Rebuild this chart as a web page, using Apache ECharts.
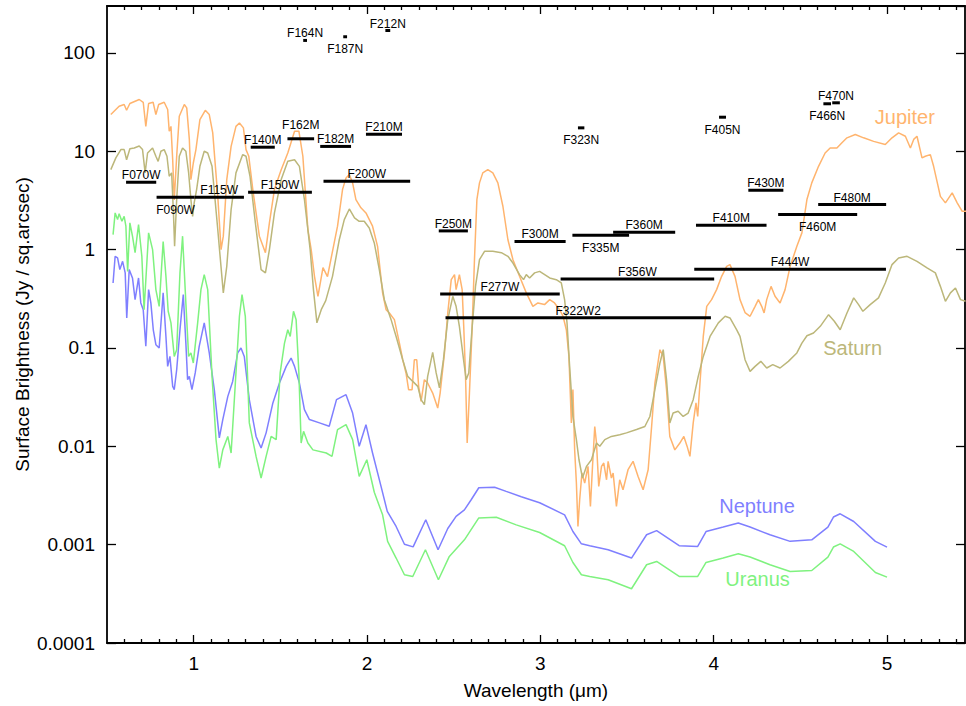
<!DOCTYPE html>
<html>
<head>
<meta charset="utf-8">
<title>Giant planet spectra and NIRCam filters</title>
<script src="https://cdn.jsdelivr.net/npm/echarts@6/dist/echarts.min.js"></script>
<style>
  html, body { margin: 0; padding: 0; background: #fff; }
  #chart { width: 966px; height: 706px; }
</style>
</head>
<body>
<div id="chart"></div>
<script>
// spectra: [wavelength um, surface brightness Jy/sq.arcsec]
const jupiter = [[0.522,23.6],[0.570,28.7],[0.599,29.9],[0.613,26.1],[0.632,30.6],[0.686,33.6],[0.709,31.5],[0.724,17.9],[0.740,30.6],[0.766,31.5],[0.782,23.6],[0.798,29.9],[0.830,31.5],[0.850,26.6],[0.859,16.0],[0.869,17.9],[0.879,8.2],[0.888,3.2],[0.902,8.9],[0.917,22.7],[0.946,29.9],[0.960,27.6],[0.975,13.2],[0.984,5.15],[0.998,7.6],[1.013,10.4],[1.036,21.0],[1.067,26.1],[1.090,23.6],[1.110,15.4],[1.139,3.5],[1.158,1.0],[1.171,1.37],[1.191,5.15],[1.216,11.2],[1.244,17.9],[1.264,19.4],[1.287,17.3],[1.302,10.4],[1.318,8.9],[1.341,4.1],[1.379,1.37],[1.414,0.93],[1.437,1.87],[1.466,4.1],[1.505,6.5],[1.543,9.6],[1.582,16.0],[1.607,16.0],[1.630,8.9],[1.659,1.6],[1.678,1.0],[1.697,0.535],[1.717,0.335],[1.746,0.656],[1.772,0.531],[1.811,1.18],[1.830,1.73],[1.859,4.1],[1.879,5.36],[1.898,5.8],[1.917,4.77],[1.936,3.23],[1.965,2.66],[1.994,2.36],[2.032,1.73],[2.061,1.08],[2.090,0.363],[2.110,0.245],[2.129,0.227],[2.158,0.194],[2.187,0.112],[2.206,0.076],[2.225,0.0557],[2.240,0.0377],[2.260,0.0377],[2.273,0.076],[2.287,0.076],[2.298,0.0407],[2.312,0.0286],[2.331,0.0476],[2.350,0.044],[2.379,0.0348],[2.408,0.0245],[2.422,0.0348],[2.447,0.089],[2.466,0.227],[2.486,0.495],[2.505,0.557],[2.514,0.392],[2.533,0.557],[2.549,0.392],[2.558,0.166],[2.568,0.0557],[2.578,0.0108],[2.591,0.0348],[2.607,0.166],[2.620,0.79],[2.634,3.23],[2.649,4.77],[2.668,6.03],[2.697,6.5],[2.726,6.03],[2.755,4.77],[2.784,2.76],[2.813,1.26],[2.842,0.79],[2.880,0.535],[2.919,0.363],[2.957,0.265],[2.986,0.287],[3.024,0.276],[3.054,0.31],[3.082,0.287],[3.111,0.245],[3.131,0.21],[3.150,0.153],[3.165,0.082],[3.179,0.0173],[3.188,0.0377],[3.198,0.0092],[3.208,0.00423],[3.217,0.00153],[3.227,0.00286],[3.240,0.00535],[3.256,0.00423],[3.275,0.00625],[3.289,0.00245],[3.301,0.00625],[3.314,0.0159],[3.324,0.0108],[3.337,0.00391],[3.353,0.00625],[3.366,0.00676],[3.382,0.00457],[3.391,0.00703],[3.410,0.00476],[3.420,0.00535],[3.439,0.00245],[3.458,0.00457],[3.477,0.00362],[3.506,0.00578],[3.535,0.00703],[3.564,0.00494],[3.593,0.00362],[3.622,0.00578],[3.642,0.0159],[3.661,0.044],[3.690,0.096],[3.709,0.082],[3.728,0.0377],[3.747,0.0126],[3.776,0.0092],[3.805,0.0108],[3.828,0.0126],[3.847,0.00998],[3.863,0.0079],[3.882,0.0173],[3.898,0.0276],[3.908,0.0201],[3.921,0.044],[3.940,0.131],[3.960,0.265],[3.988,0.31],[4.017,0.392],[4.046,0.535],[4.075,0.676],[4.094,0.703],[4.123,0.535],[4.152,0.31],[4.181,0.229],[4.210,0.21],[4.239,0.265],[4.258,0.31],[4.277,0.265],[4.291,0.227],[4.306,0.31],[4.331,0.423],[4.354,0.335],[4.383,0.287],[4.412,0.392],[4.441,0.676],[4.480,1.08],[4.509,1.48],[4.538,3.23],[4.566,4.77],[4.605,7.03],[4.643,9.6],[4.672,10.8],[4.711,10.8],[4.740,12.2],[4.769,13.7],[4.817,14.8],[4.865,13.7],[4.923,12.6],[4.990,11.7],[5.029,13.7],[5.067,15.4],[5.106,14.2],[5.135,10.8],[5.154,13.2],[5.173,14.2],[5.202,8.57],[5.221,8.9],[5.250,9.25],[5.269,7.03],[5.308,3.48],[5.337,2.99],[5.376,3.77],[5.405,2.99],[5.434,2.45],[5.459,2.45]];

const saturn = [[0.522,6.5],[0.551,8.57],[0.580,10.4],[0.599,10.4],[0.613,8.2],[0.632,10.6],[0.657,10.8],[0.686,11.3],[0.705,10.4],[0.720,6.03],[0.734,9.6],[0.763,10.8],[0.782,8.9],[0.795,7.9],[0.811,10.0],[0.830,10.4],[0.846,8.9],[0.859,5.57],[0.873,6.03],[0.884,2.18],[0.890,1.08],[0.902,3.23],[0.917,8.9],[0.936,10.8],[0.955,10.0],[0.971,6.03],[0.984,3.23],[0.994,2.18],[1.003,2.99],[1.017,4.08],[1.036,7.03],[1.061,10.0],[1.081,9.6],[1.106,7.03],[1.139,1.6],[1.171,0.363],[1.191,0.676],[1.216,2.55],[1.244,6.03],[1.283,9.25],[1.302,8.9],[1.325,5.57],[1.356,1.87],[1.389,0.626],[1.414,0.58],[1.437,1.0],[1.466,2.36],[1.505,5.15],[1.543,7.9],[1.582,8.2],[1.610,7.03],[1.639,3.23],[1.672,1.0],[1.691,0.392],[1.711,0.18],[1.736,0.245],[1.762,0.303],[1.801,0.535],[1.840,1.26],[1.869,2.02],[1.898,2.59],[1.928,2.1],[1.955,1.94],[1.984,1.94],[2.013,1.66],[2.042,1.17],[2.071,0.626],[2.100,0.31],[2.139,0.194],[2.168,0.131],[2.206,0.076],[2.235,0.0514],[2.264,0.0457],[2.293,0.0407],[2.312,0.0298],[2.331,0.0265],[2.350,0.0514],[2.379,0.0902],[2.399,0.0557],[2.418,0.0392],[2.441,0.076],[2.466,0.194],[2.495,0.335],[2.514,0.265],[2.533,0.166],[2.557,0.076],[2.572,0.0476],[2.587,0.0557],[2.607,0.166],[2.626,0.423],[2.649,0.79],[2.678,0.96],[2.726,0.96],[2.775,0.93],[2.813,0.855],[2.842,0.73],[2.880,0.557],[2.903,0.495],[2.919,0.557],[2.938,0.515],[2.967,0.58],[2.996,0.601],[3.025,0.557],[3.054,0.515],[3.092,0.495],[3.121,0.458],[3.140,0.31],[3.154,0.18],[3.169,0.065],[3.188,0.0202],[3.208,0.0117],[3.223,0.0073],[3.243,0.00476],[3.266,0.00625],[3.295,0.0073],[3.324,0.0108],[3.343,0.01],[3.372,0.0117],[3.410,0.0126],[3.458,0.0131],[3.497,0.0137],[3.555,0.0148],[3.603,0.0159],[3.632,0.0201],[3.661,0.0377],[3.690,0.0704],[3.709,0.096],[3.728,0.0476],[3.747,0.0173],[3.766,0.0218],[3.795,0.0227],[3.824,0.0201],[3.853,0.0218],[3.882,0.0298],[3.911,0.0514],[3.940,0.082],[3.979,0.131],[4.027,0.18],[4.066,0.21],[4.094,0.202],[4.133,0.153],[4.152,0.131],[4.181,0.076],[4.210,0.0578],[4.239,0.065],[4.272,0.0731],[4.306,0.0626],[4.341,0.0676],[4.383,0.0626],[4.431,0.0731],[4.480,0.089],[4.509,0.112],[4.538,0.133],[4.576,0.142],[4.615,0.166],[4.663,0.218],[4.696,0.187],[4.730,0.153],[4.769,0.227],[4.808,0.323],[4.836,0.276],[4.861,0.236],[4.903,0.276],[4.951,0.323],[4.990,0.458],[5.029,0.704],[5.067,0.823],[5.116,0.855],[5.173,0.76],[5.231,0.651],[5.279,0.58],[5.308,0.423],[5.337,0.298],[5.366,0.363],[5.395,0.407],[5.424,0.31],[5.453,0.298]];

const neptune = [[0.535,0.458],[0.547,0.855],[0.561,0.823],[0.574,0.626],[0.590,0.76],[0.605,0.58],[0.614,0.202],[0.628,0.626],[0.647,0.515],[0.662,0.31],[0.682,0.515],[0.695,0.287],[0.709,0.245],[0.724,0.104],[0.740,0.392],[0.753,0.287],[0.767,0.153],[0.782,0.108],[0.801,0.1],[0.824,0.363],[0.840,0.131],[0.850,0.065],[0.863,0.082],[0.879,0.0407],[0.888,0.0377],[0.902,0.06],[0.921,0.153],[0.940,0.349],[0.955,0.112],[0.965,0.0476],[0.975,0.0514],[0.990,0.0377],[1.009,0.0557],[1.032,0.104],[1.061,0.18],[1.090,0.089],[1.119,0.0377],[1.148,0.0122],[1.168,0.0187],[1.197,0.0322],[1.225,0.0457],[1.254,0.089],[1.273,0.1],[1.292,0.082],[1.321,0.0298],[1.360,0.0126],[1.389,0.0096],[1.418,0.0137],[1.457,0.0276],[1.495,0.044],[1.534,0.065],[1.562,0.079],[1.582,0.065],[1.610,0.044],[1.639,0.0236],[1.668,0.0187],[1.726,0.0173],[1.782,0.016],[1.824,0.0298],[1.879,0.0335],[1.917,0.0218],[1.955,0.01],[1.994,0.0166],[2.032,0.00855],[2.081,0.00391],[2.117,0.00218],[2.168,0.00153],[2.216,0.00101],[2.266,0.00095],[2.339,0.00179],[2.410,0.000887],[2.466,0.00146],[2.514,0.00194],[2.562,0.00226],[2.601,0.00286],[2.645,0.00379],[2.736,0.00384],[2.803,0.00348],[2.890,0.00307],[2.996,0.00267],[3.140,0.00201],[3.188,0.00136],[3.237,0.00102],[3.285,0.000975],[3.391,0.000887],[3.526,0.000731],[3.613,0.00126],[3.671,0.00139],[3.801,0.000975],[3.908,0.00096],[3.956,0.00136],[4.055,0.00151],[4.142,0.00166],[4.210,0.00151],[4.325,0.00126],[4.441,0.00108],[4.566,0.00112],[4.659,0.00151],[4.691,0.00191],[4.730,0.00206],[4.808,0.00172],[4.933,0.00108],[5.000,0.000944]];

const uranus = [[0.535,1.42],[0.547,2.36],[0.561,2.02],[0.570,2.32],[0.586,1.94],[0.599,2.18],[0.609,1.73],[0.619,0.601],[0.632,1.87],[0.647,1.37],[0.662,0.93],[0.682,1.8],[0.701,0.855],[0.714,0.245],[0.740,1.48],[0.763,1.0],[0.782,0.392],[0.801,0.265],[0.824,1.21],[0.840,0.535],[0.853,0.236],[0.869,0.18],[0.888,0.082],[0.902,0.096],[0.921,0.58],[0.936,1.37],[0.955,0.287],[0.971,0.082],[0.984,0.089],[0.998,0.0704],[1.023,0.18],[1.042,0.392],[1.061,0.557],[1.081,0.392],[1.106,0.0514],[1.129,0.0117],[1.148,0.00601],[1.168,0.0092],[1.197,0.0126],[1.216,0.00855],[1.244,0.0557],[1.264,0.21],[1.279,0.349],[1.298,0.21],[1.321,0.0173],[1.360,0.0079],[1.389,0.00476],[1.418,0.0079],[1.447,0.0126],[1.476,0.0117],[1.499,0.0557],[1.524,0.112],[1.543,0.153],[1.557,0.131],[1.576,0.236],[1.591,0.194],[1.607,0.0557],[1.620,0.0108],[1.634,0.0142],[1.659,0.0108],[1.688,0.0092],[1.765,0.00855],[1.798,0.0079],[1.830,0.0148],[1.879,0.0166],[1.917,0.0117],[1.955,0.00494],[1.999,0.0073],[2.042,0.00341],[2.090,0.00201],[2.119,0.00108],[2.168,0.000731],[2.216,0.000494],[2.264,0.000475],[2.337,0.000887],[2.412,0.00044],[2.475,0.000759],[2.562,0.00112],[2.645,0.00187],[2.746,0.0019],[2.861,0.00159],[2.996,0.00133],[3.140,0.000975],[3.188,0.000659],[3.237,0.000494],[3.285,0.000475],[3.391,0.00044],[3.526,0.000356],[3.613,0.000625],[3.671,0.000675],[3.801,0.000475],[3.908,0.000475],[3.956,0.000659],[4.055,0.000731],[4.142,0.000807],[4.210,0.000748],[4.325,0.000625],[4.441,0.000534],[4.566,0.000546],[4.659,0.000748],[4.691,0.000946],[4.730,0.00102],[4.808,0.000853],[4.933,0.000521],[5.000,0.000468]];

// NIRCam filters: name, band edges (um), level drawn at (Jy/sq.arcsec)
const filterNames = ['F070W','F090W','F115W','F140M','F150W','F162M','F164N','F182M','F187N','F200W','F210M','F212N','F250M','F277W','F300M','F322W2','F323N','F335M','F356W','F360M','F405N','F410M','F430M','F444W','F460M','F466N','F470N','F480M'];
const filterLo = [0.610,0.786,1.005,1.329,1.314,1.541,1.632,1.730,1.863,1.749,1.994,2.106,2.414,2.422,2.851,2.453,3.217,3.185,3.117,3.420,4.031,3.898,4.200,3.888,4.372,4.633,4.684,4.603];
const filterHi = [0.784,1.005,1.290,1.468,1.682,1.695,1.654,1.908,1.885,2.249,2.202,2.134,2.582,3.112,3.146,3.984,3.254,3.512,4.003,3.778,4.071,4.305,4.402,4.994,4.828,4.677,4.728,4.995];
const filterLevel = [4.84,3.40,3.40,11.0,3.83,13.4,134,11.2,146,4.95,14.9,169,1.55,0.353,1.21,0.203,17.3,1.40,0.503,1.50,22.2,1.77,4.01,0.630,2.27,30.4,31.1,2.87];

// tick labels
const xMajorTicks = [1, 2, 3, 4, 5];
const xMinorTicks = [];
for (let i = 6; i <= 54; i++) {
  if (i % 10 !== 0) xMinorTicks.push(i / 10);
}
const yTickLabels = ['0.0001', '0.001', '0.01', '0.1', '1', '10', '100'];

const FONT = '"Liberation Sans", Arial, Helvetica, sans-serif';
const labelsBelow = ['F090W', 'F187N', 'F323N', 'F335M', 'F405N', 'F460M', 'F466N'];
const labelsRaised = ['F162M'];

// one x axis per tick size and side (bottom/top, major/minor)
function xAxisDef(position, ticks, tickLen, withLine, withLabel) {
  return {
    type: 'value',
    position: position,
    min: 0.5,
    max: 5.45,
    axisLine: { show: withLine, onZero: false, lineStyle: { color: '#000', width: 1.8 } },
    axisTick: { show: true, inside: true, length: tickLen, customValues: ticks, lineStyle: { color: '#000', width: 1.3 } },
    axisLabel: { show: withLabel, customValues: ticks, color: '#000', fontSize: 19, fontFamily: FONT, margin: 11 },
    splitLine: { show: false }
  };
}

function yAxisDef(position, withLabel) {
  return {
    type: 'log',
    logBase: 10,
    position: position,
    min: 0.0001,
    max: 300,
    axisLine: { show: true, onZero: false, lineStyle: { color: '#000', width: 1.8 } },
    axisTick: { show: true, inside: true, length: 9, lineStyle: { color: '#000', width: 1.3 } },
    axisLabel: {
      show: withLabel,
      showMaxLabel: false,
      color: '#000',
      fontSize: 19,
      fontFamily: FONT,
      margin: 12,
      formatter: function (v) {
        const k = Math.round(Math.log10(v)) + 4;
        return yTickLabels[k] || '';
      }
    },
    splitLine: { show: false }
  };
}

// filter bar with its name above or below
function renderFilter(params, api) {
  const a = api.coord([api.value(0), api.value(2)]);
  const b = api.coord([api.value(1), api.value(2)]);
  const name = filterNames[params.dataIndex];
  const below = labelsBelow.indexOf(name) >= 0;
  const raised = labelsRaised.indexOf(name) >= 0;
  const ty = below ? a[1] + 12.5 : a[1] - (raised ? 13.5 : 7);
  return {
    type: 'group',
    children: [
      { type: 'rect', shape: { x: a[0], y: a[1] - 1.5, width: Math.max(b[0] - a[0], 3), height: 3 }, style: { fill: '#000' } },
      { type: 'text', style: { text: name, x: (a[0] + b[0]) / 2, y: ty, fill: '#000', fontSize: 12, fontFamily: FONT, align: 'center', verticalAlign: 'middle' } }
    ]
  };
}

function planet(name, data, color, labelAt) {
  return {
    name: name,
    type: 'line',
    data: data,
    showSymbol: false,
    symbol: 'none',
    silent: true,
    lineStyle: { color: color, width: 1.5 },
    markPoint: {
      silent: true,
      symbol: 'circle',
      symbolSize: 0,
      label: { show: true, position: 'inside', formatter: name, color: color, fontSize: 20, fontFamily: FONT },
      data: [{ coord: labelAt }]
    }
  };
}

const chart = echarts.init(document.getElementById('chart'), null, { renderer: 'svg' });

const option = {
  animation: false,
  backgroundColor: '#fff',
  grid: { left: 107, right: 1, top: 6, bottom: 63, containLabel: false },
  xAxis: [
    Object.assign(xAxisDef('bottom', xMajorTicks, 8, true, true), {
      name: 'Wavelength (\u03bcm)',
      nameLocation: 'middle',
      nameGap: 38,
      nameTextStyle: { color: '#000', fontSize: 19, fontFamily: FONT }
    }),
    xAxisDef('bottom', xMinorTicks, 4, false, false),
    xAxisDef('top', xMajorTicks, 8, true, false),
    xAxisDef('top', xMinorTicks, 4, false, false)
  ],
  yAxis: [
    Object.assign(yAxisDef('left', true), {
      name: 'Surface Brightness (Jy / sq.arcsec)',
      nameLocation: 'middle',
      nameGap: 75,
      nameMoveOverlap: false,
      nameTextStyle: { color: '#000', fontSize: 19, fontFamily: FONT }
    }),
    yAxisDef('right', false)
  ],
  series: [
    planet('Jupiter', jupiter, '#ffb46e', [5.103, 22.5]),
    planet('Saturn', saturn, '#bcb77a', [4.802, 0.1]),
    planet('Neptune', neptune, '#7f7fff', [4.250, 0.0025]),
    planet('Uranus', uranus, '#7ff27f', [4.253, 0.000447]),
    {
      name: 'filters',
      type: 'custom',
      silent: true,
      renderItem: renderFilter,
      encode: { x: [0, 1], y: 2 },
      data: filterNames.map(function (n, i) { return [filterLo[i], filterHi[i], filterLevel[i]]; }),
      z: 5
    }
  ]
};

chart.setOption(option);
</script>
</body>
</html>
